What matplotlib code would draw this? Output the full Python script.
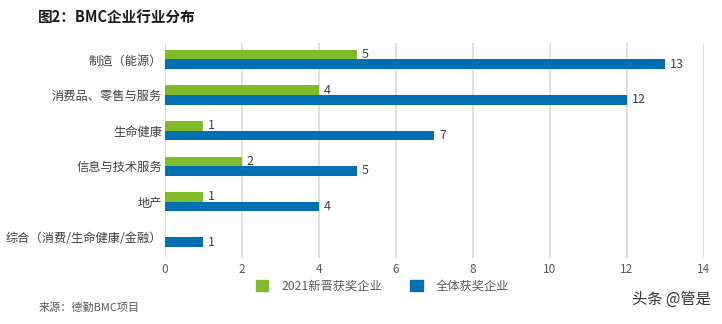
import matplotlib
matplotlib.use("Agg")
import matplotlib.pyplot as plt
import numpy as np

plt.rcParams['font.family'] = ['Noto Sans CJK SC', 'DejaVu Sans']

# ─── Daten ───────────────────────────────────────────────────────────────────
categories = ["制造（能源）", "消费品、零售与服务", "生命健康",
              "信息与技术服务", "地产", "综合（消费/生命健康/金融）"]
new_2021 = [5, 4, 1, 2, 1, 0]
all_winners = [13, 12, 7, 5, 4, 1]
series_names = ["2021新晋获奖企业", "全体获奖企业"]
xticks = [0, 2, 4, 6, 8, 10, 12, 14]

GREEN = "#80BC2A"
BLUE = "#0070B2"
TXT = "#404040"

fig = plt.figure(figsize=(7.22, 3.24), dpi=100)
ax = fig.add_axes([0.2285, 0.204, 0.7465, 0.662])

y = np.arange(len(categories))
h = 0.27
for i, (g, b) in enumerate(zip(new_2021, all_winners)):
    if g > 0:
        ax.barh(y[i] - h / 2, g, height=h, color=GREEN, zorder=3)
        ax.text(g + 0.12, y[i] - h / 2, str(g), va="center", ha="left",
                fontsize=9, color=TXT)
    ax.barh(y[i] + h / 2, b, height=h, color=BLUE, zorder=3)
    ax.text(b + 0.12, y[i] + h / 2, str(b), va="center", ha="left",
            fontsize=9, color=TXT)

ax.set_yticks(y)
ax.set_yticklabels(categories, fontsize=8.8, color=TXT)
ax.set_ylim(len(categories) - 0.42, -0.45)
ax.set_xlim(0, 14)
ax.set_xticks(xticks)
ax.set_xticklabels([str(t) for t in xticks], fontsize=8.5, color="#595959")
ax.tick_params(length=0, pad=4)
ax.tick_params(axis="y", pad=2)
ax.grid(axis="x", color="#D9D9D9", linewidth=1.2, zorder=0)
for s in ax.spines.values():
    s.set_visible(False)

# Legende
handles = [plt.Rectangle((0, 0), 1, 1, color=GREEN),
           plt.Rectangle((0, 0), 1, 1, color=BLUE)]
fig.legend(handles, series_names, loc="center", bbox_to_anchor=(0.53, 0.117),
           ncol=2, frameon=False, fontsize=8.8, handlelength=1.0, handleheight=1.0,
           columnspacing=2.3, handletextpad=1.1, labelcolor="#595959")

fig.text(0.053, 0.945, "图2：BMC企业行业分布", fontsize=10.5, fontweight="bold",
         color="#1a1a1a", va="center")
fig.text(0.053, 0.05, "来源：德勤BMC项目", fontsize=8, color="#595959", va="center")
fig.text(0.985, 0.075, "头条 @管是", fontsize=11, color="#333333",
         ha="right", va="center")

plt.savefig("out.png", dpi=100)
